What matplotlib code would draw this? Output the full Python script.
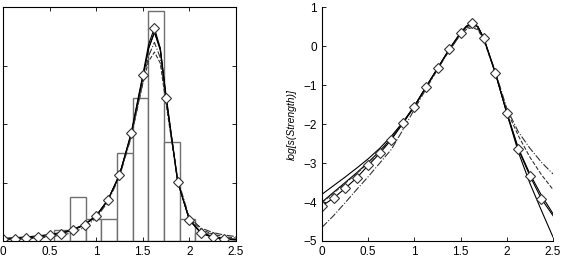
import numpy as np
import matplotlib.pyplot as plt

plt.rcParams['font.family'] = ['Liberation Sans', 'DejaVu Sans']

# histogram (left panel)
bin_left = [0.55, 0.718, 0.886, 1.054, 1.222, 1.39, 1.558, 1.726, 1.894, 2.062]
bin_width = 0.168
bin_height = [0.097, 0.377, 0.19, 0.19, 0.755, 1.22, 1.97, 0.85, 0.19, 0.07]

# log density curves
x = np.array([0, 0.125, 0.25, 0.375, 0.5, 0.625, 0.75, 0.875, 1.0, 1.125, 1.25,
              1.375, 1.5, 1.5625, 1.625, 1.6875, 1.75, 1.875, 2.0, 2.125, 2.25,
              2.375, 2.5])
log_diam = [-4.1, -3.9, -3.65, -3.38, -3.06, -2.75, -2.4, -1.98, -1.55, -1.05, -0.57,
            -0.08, 0.35, 0.52, 0.6, 0.5, 0.2, -0.68, -1.72, -2.65, -3.33,
            -3.92, -4.35]
log_s1 = [-3.8, -3.58, -3.36, -3.13, -2.89, -2.62, -2.31, -1.95, -1.53, -1.05, -0.57,
          -0.1, 0.33, 0.5, 0.58, 0.5, 0.22, -0.68, -1.72, -2.72, -3.52,
          -4.22, -4.9]
log_s2 = [-4.0, -3.75, -3.5, -3.25, -2.98, -2.69, -2.36, -1.97, -1.54, -1.05, -0.57,
          -0.09, 0.34, 0.5, 0.58, 0.49, 0.2, -0.68, -1.7, -2.62, -3.28,
          -3.83, -4.3]
log_dash = [-4.02, -3.77, -3.52, -3.27, -3.0, -2.7, -2.37, -1.98, -1.55, -1.06, -0.58,
            -0.11, 0.3, 0.43, 0.48, 0.42, 0.16, -0.68, -1.65, -2.3, -2.85,
            -3.3, -3.68]
log_dashdot = [-4.65, -4.35, -4.02, -3.68, -3.35, -3.0, -2.65, -2.15, -1.62, -1.1, -0.6,
               -0.12, 0.3, 0.46, 0.53, 0.45, 0.18, -0.64, -1.6, -2.2, -2.62,
               -2.98, -3.28]

mark_idx = [i for i in range(len(x) - 1) if (x[i] * 8) % 1 == 0]

fig = plt.figure(figsize=(5.62, 2.58), dpi=100)
ax1 = fig.add_axes([0.0053, 0.066, 0.4146, 0.906])
ax2 = fig.add_axes([0.573, 0.066, 0.411, 0.906])

ax1.bar(bin_left, bin_height, width=bin_width, align='edge', facecolor='white',
        edgecolor='#707070', linewidth=1.0)
ax1.plot(x, np.exp(log_s1), '-', color='black', lw=0.8)
ax1.plot(x, np.exp(log_s2), '-', color='black', lw=0.8)
ax1.plot(x, np.exp(log_dash), '--', color='#333333', lw=0.8)
ax1.plot(x, np.exp(log_dashdot), '-.', color='#333333', lw=0.8)
ax1.plot(x, np.exp(log_diam), '-', color='black', lw=0.8, marker='D', ms=5.5,
         mfc='white', mec='#333333', mew=0.8, markevery=mark_idx)
ax1.set_xlim(0, 2.5)
ax1.set_ylim(0, 2)
ax1.set_xticks([0, 0.5, 1, 1.5, 2, 2.5])
ax1.set_xticklabels(['0', '0.5', '1', '1.5', '2', '2.5'])
ax1.set_yticks([0.5, 1, 1.5])
ax1.set_yticklabels([])
ax1.tick_params(direction='in', top=True, right=True, labelsize=8.5, length=3, width=0.6)
for s in ax1.spines.values():
    s.set_linewidth(0.8)

ax2.plot(x, log_s1, '-', color='black', lw=0.8)
ax2.plot(x, log_s2, '-', color='black', lw=0.8)
ax2.plot(x, log_dash, '--', color='#333333', lw=0.8)
ax2.plot(x, log_dashdot, '-.', color='#333333', lw=0.8)
ax2.plot(x, log_diam, '-', color='black', lw=0.8, marker='D', ms=5.5,
         mfc='white', mec='#333333', mew=0.8, markevery=mark_idx)
ax2.set_xlim(0, 2.5)
ax2.set_ylim(-5, 1)
ax2.set_xticks([0, 0.5, 1, 1.5, 2, 2.5])
ax2.set_xticklabels(['0', '0.5', '1', '1.5', '2', '2.5'])
ax2.set_yticks([-5, -4, -3, -2, -1, 0, 1])
ax2.set_yticklabels(['\u22125', '\u22124', '\u22123', '\u22122', '\u22121', '0', '1'])
ax2.spines['top'].set_visible(False)
ax2.spines['right'].set_visible(False)
ax2.tick_params(direction='in', labelsize=8.5, length=3, width=0.6)
ax2.set_ylabel('log[s(Strength)]', fontsize=7.5, style='italic', labelpad=5)
for s in ax2.spines.values():
    s.set_linewidth(0.8)

fig.savefig('out.png', dpi=100)
